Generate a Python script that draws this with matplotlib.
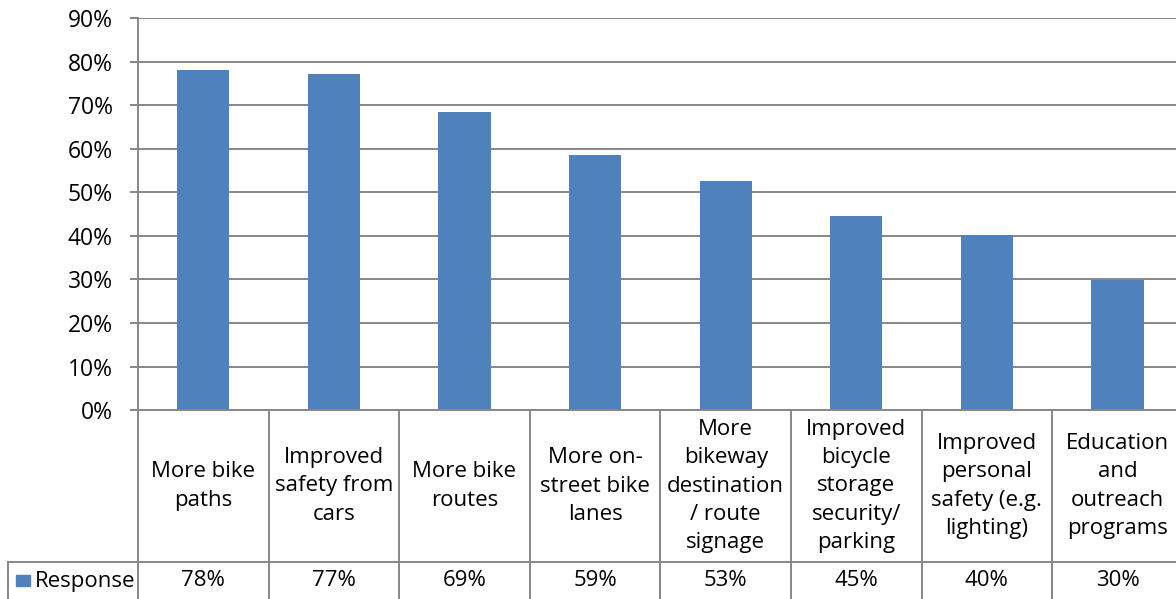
import numpy as np
import matplotlib
matplotlib.use("Agg")
import matplotlib.pyplot as plt
import matplotlib.transforms as mtransforms
from matplotlib.patches import Rectangle

plt.rcParams['font.family'] = ['Open Sans', 'DejaVu Sans']

# data
categories = ["More bike\npaths", "Improved\nsafety from\ncars", "More bike\nroutes",
              "More on-\nstreet bike\nlanes", "More\nbikeway\ndestination\n/ route\nsignage",
              "Improved\nbicycle\nstorage\nsecurity/\nparking", "Improved\npersonal\nsafety (e.g.\nlighting)",
              "Education\nand\noutreach\nprograms"]
values = [78.1, 77.3, 68.6, 58.6, 52.6, 44.6, 40.3, 29.9]
series_name = "Response"
yticks = np.arange(0, 91, 10)

W, H = 1176, 599
fig = plt.figure(figsize=(W / 100, H / 100), dpi=100)
ax_left, ax_right = 138, 1182.8
ax_top, ax_bot = 18.5, 410
ax = fig.add_axes([ax_left / W, (H - ax_bot) / H, (ax_right - ax_left) / W, (ax_bot - ax_top) / H])

bar_color = '#4F81BD'
grid_color = '#878787'
fs = 16

x = np.arange(len(categories))
ax.bar(x, values, width=0.4, color=bar_color, zorder=3)
ax.set_xlim(-0.5, len(categories) - 0.5)
ax.set_ylim(0, 90)
ax.set_yticks(yticks)
ax.set_yticklabels([f"{v}%" for v in yticks], fontsize=fs + 0.5)
ax.set_xticks([])
ax.grid(axis='y', color=grid_color, linewidth=1.4, zorder=0)
for s in ['top', 'right', 'bottom']:
    ax.spines[s].set_visible(False)
ax.spines['left'].set_color(grid_color)
ax.spines['left'].set_linewidth(1.4)
ax.tick_params(axis='y', length=6, width=1.4, color=grid_color, pad=12, direction='out')

# data table below the axes (y in pixels -> axes fraction)
def yfrac(py):
    return (ax_bot - py) / (ax_bot - ax_top)

trans = mtransforms.blended_transform_factory(ax.transData, ax.transAxes)
row_line = 562
bottom = 605
lw = 1.4
# axis line at bottom of plot area
ax.plot([-0.5, len(categories) - 0.5], [0, 0], transform=trans, color=grid_color, lw=lw, clip_on=False, zorder=4)
ax.plot([-0.5 - 130 / 130.6, len(categories) - 0.5], [yfrac(row_line)] * 2, transform=trans,
        color=grid_color, lw=lw, clip_on=False)
for i in range(len(categories) + 1):
    ax.plot([i - 0.5, i - 0.5], [0, yfrac(bottom)], transform=trans, color=grid_color, lw=lw, clip_on=False)
ax.plot([-0.5 - 130 / 130.6] * 2, [yfrac(row_line), yfrac(bottom)], transform=trans,
        color=grid_color, lw=lw, clip_on=False)

for i, (c, v) in enumerate(zip(categories, values)):
    ax.text(i, yfrac(486), c, transform=trans, ha='center', va='center', fontsize=fs,
            linespacing=1.45, clip_on=False)
    ax.text(i, yfrac(581), f"{v:.0f}%", transform=trans, ha='center', va='center', fontsize=fs, clip_on=False)

# legend key in the table
fig.patches.append(Rectangle((16 / W, (H - 586) / H), 14 / W, 11 / H, transform=fig.transFigure,
                             color=bar_color))
fig.text(35 / W, (H - 581) / H, series_name, ha='left', va='center', fontsize=fs)

fig.savefig("out.png", dpi=100)
